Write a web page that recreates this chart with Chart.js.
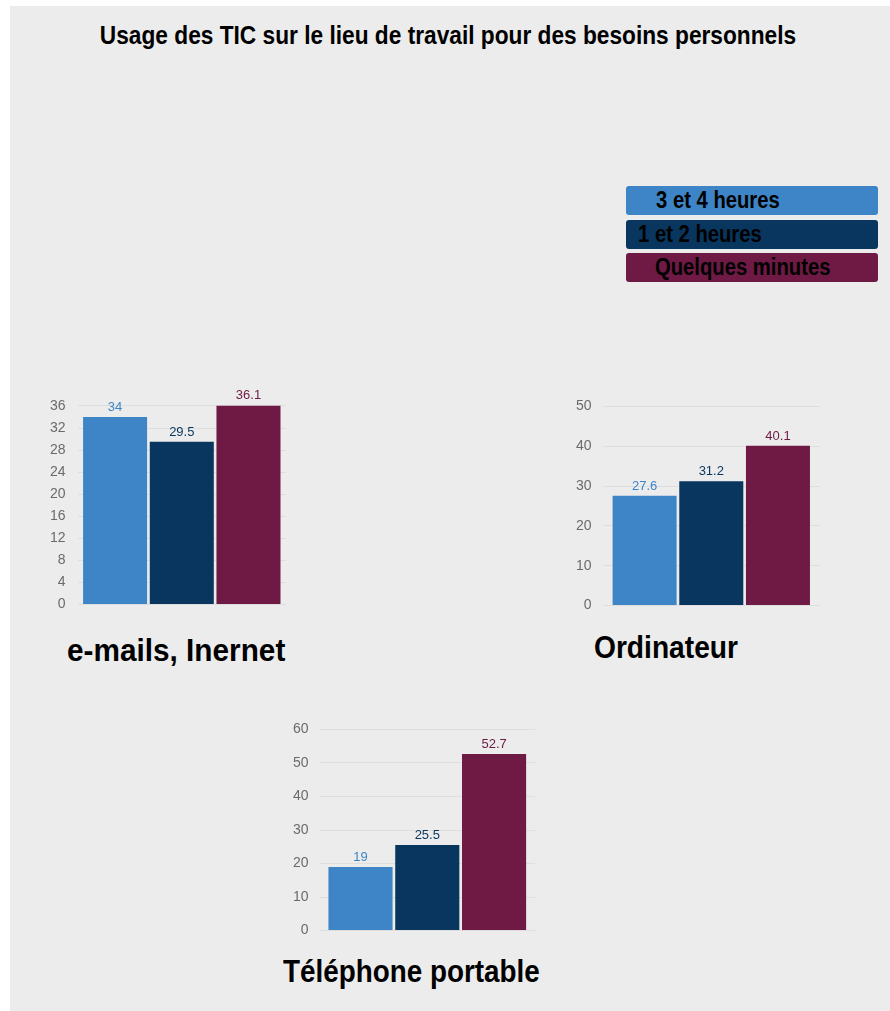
<!DOCTYPE html>
<html>
<head>
<meta charset="utf-8">
<script src="https://cdn.jsdelivr.net/npm/chart.js@4.4.1/dist/chart.umd.min.js"></script>
<style>
  html, body { margin: 0; padding: 0; background: #fff; }
  #page {
    position: absolute; left: 10px; top: 6px; width: 880px; height: 1005px;
    background: #ececec;
    font-family: "Liberation Sans", Arial, sans-serif;
    font-weight: bold;
  }
  #title {
    position: absolute; left: 0; width: 876px; top: 14px;
    text-align: center; font-size: 26px; color: #000;
    transform: scaleX(0.873); transform-origin: 438px 0;
  }
  .legend-item {
    position: absolute; left: 616px; width: 252px; height: 29px;
    border-radius: 3px; color: #000; box-sizing: border-box;
  }
  .legend-item span {
    position: absolute; top: 0; font-size: 23px; line-height: 29px;
    transform: scaleX(0.88); transform-origin: 0 0; white-space: nowrap;
  }
  .box { position: absolute; }
  .box canvas { display: block; }
  .group-title {
    position: absolute; font-size: 32px; color: #000; white-space: nowrap;
    transform-origin: 0 0;
  }
</style>
</head>
<body>
<div id="page">
  <div id="title">Usage des TIC sur le lieu de travail pour des besoins personnels</div>
</div>
<script>
// ------------------ Data ------------------
const series = ['3 et 4 heures', '1 et 2 heures', 'Quelques minutes'];
const seriesColors = ['#3d85c6', '#08365e', '#6e1a45'];
const groups = ['e-mails, Inernet', 'Ordinateur', 'Téléphone portable'];
const heures34 = [34, 27.6, 19];
const heures12 = [29.5, 31.2, 25.5];
const minutes = [36.1, 40.1, 52.7];
const axisMax = [36.1, 50, 60];
const axisStep = [4, 10, 10];

// ------------------ Layout ------------------
const page = document.getElementById('page');
const boxes = [
    { left: 28, top: 379, width: 250, height: 240, catPct: 0.96, pad: 12 },
    { left: 555, top: 381, width: 257, height: 238, catPct: 0.92, pad: 11 },
    { left: 272, top: 704, width: 255, height: 240, catPct: 0.93, pad: 11 }
];
const titlePos = [
    { left: 57, top: 626, scale: 0.93 },
    { left: 584, top: 623, scale: 0.88 },
    { left: 273, top: 947, scale: 0.87 }
];
const legendTops = [180, 214, 247];
const legendPad = [30, 12, 29];

series.forEach(function(name, i) {
    const item = document.createElement('div');
    item.className = 'legend-item';
    item.style.top = legendTops[i] + 'px';
    item.style.background = seriesColors[i];
    const txt = document.createElement('span');
    txt.style.left = legendPad[i] + 'px';
    txt.textContent = name;
    item.appendChild(txt);
    page.appendChild(item);
});

// value labels above bars
const valueLabels = {
    id: 'valueLabels',
    afterDatasetsDraw: function(chart) {
        const ctx = chart.ctx;
        ctx.save();
        ctx.font = '13px "Liberation Sans", Arial, sans-serif';
        ctx.textAlign = 'center';
        ctx.textBaseline = 'bottom';
        chart.data.datasets.forEach(function(ds, di) {
            chart.getDatasetMeta(di).data.forEach(function(bar, j) {
                ctx.fillStyle = ds.backgroundColor;
                ctx.fillText(String(ds.data[j]), bar.x, bar.y - 3);
            });
        });
        ctx.restore();
    }
};

groups.forEach(function(group, g) {
    const b = boxes[g];
    const wrap = document.createElement('div');
    wrap.className = 'box';
    wrap.style.left = b.left + 'px';
    wrap.style.top = b.top + 'px';
    wrap.style.width = b.width + 'px';
    wrap.style.height = b.height + 'px';
    const canvas = document.createElement('canvas');
    wrap.appendChild(canvas);
    page.appendChild(wrap);

    const t = document.createElement('div');
    t.className = 'group-title';
    t.style.left = titlePos[g].left + 'px';
    t.style.top = titlePos[g].top + 'px';
    t.style.transform = 'scaleX(' + titlePos[g].scale + ')';
    t.textContent = group;
    page.appendChild(t);

    const values = [heures34[g], heures12[g], minutes[g]];
    new Chart(canvas, {
        type: 'bar',
        data: {
            labels: [group],
            datasets: series.map(function(name, i) {
                return {
                    label: name,
                    data: [values[i]],
                    backgroundColor: seriesColors[i],
                    borderWidth: 0,
                    categoryPercentage: b.catPct,
                    barPercentage: 0.96
                };
            })
        },
        options: {
            responsive: true,
            maintainAspectRatio: false,
            animation: false,
            layout: { padding: { top: 14, right: 2 } },
            plugins: { legend: { display: false }, tooltip: { enabled: false } },
            scales: {
                x: { display: false },
                y: {
                    min: 0,
                    max: axisMax[g],
                    border: { display: false },
                    grid: { color: 'rgba(0,0,0,0.06)', drawTicks: false },
                    ticks: {
                        stepSize: axisStep[g],
                        includeBounds: false,
                        padding: b.pad,
                        color: '#6a6a6a',
                        font: { family: '"Liberation Sans", Arial, sans-serif', size: 14 }
                    }
                }
            }
        },
        plugins: [valueLabels]
    });
});
</script>
</body>
</html>
